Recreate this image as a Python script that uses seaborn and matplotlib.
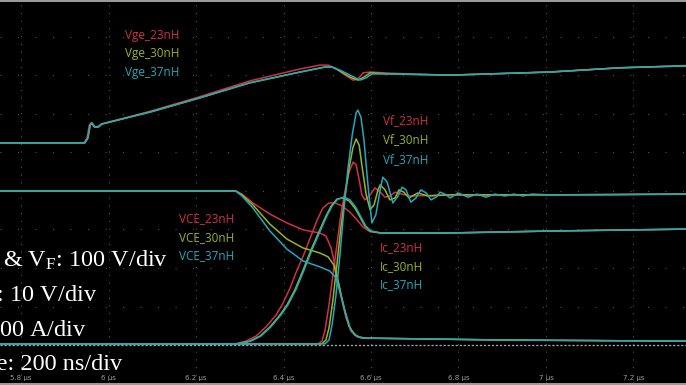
import pandas as pd
import seaborn as sns
import matplotlib.pyplot as plt
from matplotlib.ticker import FuncFormatter

sns.set_style("dark", {"axes.facecolor": "black"})
plt.rcParams["lines.scale_dashes"] = False
plt.rcParams["mathtext.fontset"] = "custom"
plt.rcParams["mathtext.rm"] = "Liberation Serif"
plt.rcParams["mathtext.it"] = "Liberation Serif:italic"

# time in us, level in screen divisions above the dashed ground marker
inductances = ["23nH", "30nH", "37nH"]
colors = ["#d0304a", "#98b424", "#22a9bb"]
time_ticks = [5.8, 6.0, 6.2, 6.4, 6.6, 6.8, 7.0, 7.2]

vge_23_t = [5.752, 5.944, 5.951, 5.956, 5.960, 5.967, 5.974, 5.983, 6.095, 6.209, 6.323, 6.438, 6.483,
            6.502, 6.518, 6.541, 6.559, 6.570, 6.582, 6.598, 6.643, 6.781, 7.009, 7.169, 7.320]
vge_23_d = [5.25, 5.25, 5.38, 5.71, 5.77, 5.66, 5.66, 5.74, 6.07, 6.45, 6.86, 7.17, 7.27,
            7.27, 7.19, 7.01, 6.88, 6.91, 7.07, 7.09, 7.06, 7.01, 7.09, 7.20, 7.26]
vge_30_t = [5.752, 5.946, 5.953, 5.958, 5.962, 5.969, 5.976, 5.985, 6.095, 6.209, 6.323, 6.438, 6.495,
            6.511, 6.529, 6.552, 6.570, 6.584, 6.598, 6.643, 6.781, 7.009, 7.169, 7.320]
vge_30_d = [5.25, 5.25, 5.38, 5.71, 5.77, 5.66, 5.66, 5.74, 6.05, 6.42, 6.81, 7.09, 7.22,
            7.22, 7.12, 6.96, 6.88, 6.96, 7.07, 7.04, 7.01, 7.09, 7.20, 7.25]
vge_37_t = [5.752, 5.946, 5.953, 5.958, 5.962, 5.969, 5.976, 5.985, 6.095, 6.209, 6.323, 6.438, 6.495,
            6.511, 6.529, 6.552, 6.575, 6.589, 6.602, 6.643, 6.781, 7.009, 7.169, 7.320]
vge_37_d = [5.25, 5.25, 5.38, 5.71, 5.77, 5.66, 5.66, 5.74, 6.05, 6.42, 6.81, 7.09, 7.22,
            7.22, 7.14, 7.01, 6.88, 6.94, 7.04, 7.04, 7.01, 7.09, 7.20, 7.25]

vce_23_t = [5.752, 6.291, 6.305, 6.330, 6.369, 6.408, 6.445, 6.483, 6.497, 6.509, 6.520, 6.531,
            6.543, 6.554, 6.568, 6.586, 6.895, 7.320]
vce_23_d = [4.00, 4.00, 3.92, 3.69, 3.40, 3.17, 2.99, 2.91, 2.83, 2.52, 1.95, 1.27,
            0.70, 0.36, 0.21, 0.18, 0.13, 0.10]
vce_30_t = [5.752, 6.291, 6.305, 6.330, 6.369, 6.408, 6.445, 6.483, 6.502, 6.515, 6.527, 6.538,
            6.550, 6.563, 6.579, 6.895, 7.320]
vce_30_d = [4.00, 4.00, 3.90, 3.64, 3.14, 2.75, 2.52, 2.39, 2.29, 2.08, 1.56, 0.99,
            0.49, 0.26, 0.18, 0.13, 0.10]
vce_37_t = [5.752, 6.291, 6.305, 6.330, 6.369, 6.408, 6.445, 6.483, 6.506, 6.520, 6.531, 6.543,
            6.554, 6.568, 6.584, 6.895, 7.320]
vce_37_d = [4.00, 4.00, 3.87, 3.56, 2.96, 2.49, 2.18, 2.03, 1.92, 1.74, 1.30, 0.78,
            0.39, 0.23, 0.18, 0.13, 0.10]

ic_23_t = [5.752, 6.289, 6.314, 6.337, 6.360, 6.383, 6.399, 6.415, 6.431, 6.445, 6.461, 6.477,
           6.490, 6.504, 6.518, 6.534, 6.552, 6.568, 6.582, 6.598, 6.621, 6.781, 7.009, 7.320]
ic_23_d = [0.03, 0.03, 0.10, 0.23, 0.47, 0.78, 1.09, 1.48, 1.95, 2.31, 2.78, 3.25,
           3.56, 3.69, 3.69, 3.61, 3.45, 3.25, 3.06, 2.94, 2.91, 2.91, 2.96, 3.01]
ic_30_t = [5.752, 6.296, 6.323, 6.346, 6.369, 6.392, 6.408, 6.426, 6.445, 6.463, 6.483, 6.497,
           6.509, 6.522, 6.536, 6.550, 6.563, 6.575, 6.586, 6.598, 6.621, 6.781, 7.009, 7.320]
ic_30_d = [0.03, 0.03, 0.10, 0.23, 0.47, 0.78, 1.04, 1.43, 1.95, 2.47, 2.99, 3.35,
           3.61, 3.79, 3.82, 3.74, 3.56, 3.32, 3.09, 2.96, 2.91, 2.91, 2.96, 3.01]
ic_37_t = [5.752, 6.298, 6.325, 6.348, 6.371, 6.394, 6.410, 6.428, 6.447, 6.465, 6.485, 6.499,
           6.511, 6.524, 6.538, 6.552, 6.565, 6.577, 6.588, 6.600, 6.623, 6.781, 7.009, 7.320]
ic_37_d = [0.03, 0.03, 0.10, 0.23, 0.47, 0.78, 1.04, 1.43, 1.95, 2.47, 2.99, 3.35,
           3.61, 3.79, 3.84, 3.77, 3.58, 3.32, 3.09, 2.96, 2.91, 2.91, 2.96, 3.01]

vf_23_t = [5.752, 6.479, 6.488, 6.495, 6.504, 6.513, 6.522, 6.531, 6.541, 6.550, 6.559, 6.566, 6.573,
           6.579, 6.586, 6.598, 6.609, 6.621, 6.632, 6.643, 6.655, 6.671, 6.689, 6.781, 7.009, 7.320]
vf_23_d = [0.03, 0.03, 0.10, 0.39, 1.04, 1.82, 2.60, 3.38, 4.03, 4.49, 4.75, 4.68, 4.29,
           3.90, 3.77, 3.90, 4.08, 3.97, 3.84, 3.87, 3.97, 3.92, 3.87, 3.90, 3.90, 3.92]
vf_30_t = [5.752, 6.488, 6.497, 6.504, 6.513, 6.522, 6.531, 6.541, 6.550, 6.559, 6.566, 6.573, 6.579,
           6.589, 6.598, 6.607, 6.616, 6.621, 6.632, 6.643, 6.655, 6.664, 6.675, 6.687, 6.707, 6.730,
           6.781, 7.009, 7.320]
vf_30_d = [0.03, 0.03, 0.13, 0.44, 1.17, 2.08, 3.04, 3.90, 4.60, 5.14, 5.35, 5.19, 4.68,
           3.90, 3.51, 3.64, 4.03, 4.16, 4.03, 3.77, 3.82, 4.03, 3.97, 3.82, 3.95, 3.87,
           3.90, 3.90, 3.92]
vf_37_t = [5.752, 6.495, 6.504, 6.511, 6.520, 6.529, 6.538, 6.547, 6.557, 6.566, 6.570, 6.577, 6.584,
           6.593, 6.602, 6.611, 6.621, 6.627, 6.637, 6.650, 6.662, 6.671, 6.680, 6.691, 6.703, 6.714,
           6.726, 6.737, 6.749, 6.758, 6.769, 6.781, 6.799, 6.822, 6.842, 6.863, 6.883, 6.906, 6.927,
           6.947, 6.968, 7.009, 7.123, 7.320]
vf_37_d = [0.03, 0.03, 0.13, 0.52, 1.30, 2.34, 3.51, 4.55, 5.45, 6.03, 6.10, 5.92, 5.32,
           4.16, 3.17, 3.38, 4.03, 4.36, 4.23, 3.69, 3.87, 4.10, 4.03, 3.71, 3.82, 4.03,
           3.95, 3.77, 3.84, 3.97, 3.92, 3.82, 3.95, 3.84, 3.92, 3.84, 3.92, 3.87, 3.92,
           3.87, 3.92, 3.90, 3.90, 3.92]

traces = {
    ("Vge", "23nH"): (vge_23_t, vge_23_d), ("Vge", "30nH"): (vge_30_t, vge_30_d), ("Vge", "37nH"): (vge_37_t, vge_37_d),
    ("VCE", "23nH"): (vce_23_t, vce_23_d), ("VCE", "30nH"): (vce_30_t, vce_30_d), ("VCE", "37nH"): (vce_37_t, vce_37_d),
    ("Ic", "23nH"): (ic_23_t, ic_23_d), ("Ic", "30nH"): (ic_30_t, ic_30_d), ("Ic", "37nH"): (ic_37_t, ic_37_d),
    ("Vf", "23nH"): (vf_23_t, vf_23_d), ("Vf", "30nH"): (vf_30_t, vf_30_d), ("Vf", "37nH"): (vf_37_t, vf_37_d),
}

frames = []
for (sig, L), (t, d) in traces.items():
    frames.append(pd.DataFrame({"t": t, "level": d, "L": L, "trace": sig + "_" + L}))
df = pd.concat(frames, ignore_index=True)

scale_lines = ["V$_\\mathrm{CE}$ & V$_\\mathrm{F}$: 100 V/div", "V$_\\mathrm{GE}$: 10 V/div",
               "I$_\\mathrm{C}$: 200 A/div", "Time: 200 ns/div"]

W, H = 686, 385


def fx(x):
    return x / W


def fy(y):
    return 1 - y / H


fig = plt.figure(figsize=(W / 100, H / 100), dpi=100, facecolor="#9a9a9a")
ax = fig.add_axes([0, 2.5 / H, 1, 380.5 / H])
ax.set_facecolor("black")

ax.set_xlim(5.752, 7.320)
ax.set_ylim(-0.974, 8.909)
ax.set_xticks(time_ticks)
ax.set_yticks(range(1, 9))
ax.xaxis.grid(True, color="#505050", lw=0.8, ls=(0, (0.8, 4.74)))
ax.yaxis.grid(True, color="#505050", lw=0.8, ls=(0, (0.8, 11.8)))
ax.xaxis.set_major_formatter(FuncFormatter(lambda v, p: f"{v:g} µs"))
ax.tick_params(axis="x", length=0, labelsize=5, labelcolor="#9c9c9c", pad=-5.6)
ax.tick_params(axis="y", length=0, labelleft=False)
for s in ax.spines.values():
    s.set_visible(False)
ax.axhline(0, color="#a8a8a8", lw=0.9, ls=(0, (1.6, 1.3)), zorder=1.5)

sns.lineplot(data=df, x="t", y="level", hue="L", units="trace", estimator=None,
             hue_order=inductances, palette=colors, lw=1.1, legend=False, sort=False, ax=ax)
ax.set_xlabel("")
ax.set_ylabel("")

# channel labels
label_pos = {"Vge": (125, [39, 57.5, 76]), "Vf": (383, [124.5, 143.5, 163]),
             "VCE": (179, [222, 241, 259.5]), "Ic": (380, [251.5, 270, 288.5])}
for sig, (x, ys) in label_pos.items():
    for L, c, y in zip(inductances, colors, ys):
        fig.text(fx(x), fy(y), f"{sig}_{L}", color=c, fontsize=8.5, family="Open Sans", va="baseline")

# scale annotation, partly cut off at the left edge like the screenshot
for txt, (x, y) in zip(scale_lines, [(168, 267), (97, 302), (87, 337), (122, 370)]):
    fig.text(fx(x), fy(y), txt, color="white", fontsize=17.5, family="Liberation Serif",
             ha="right", va="baseline")

fig.savefig("out.png", dpi=100, facecolor=fig.get_facecolor())
